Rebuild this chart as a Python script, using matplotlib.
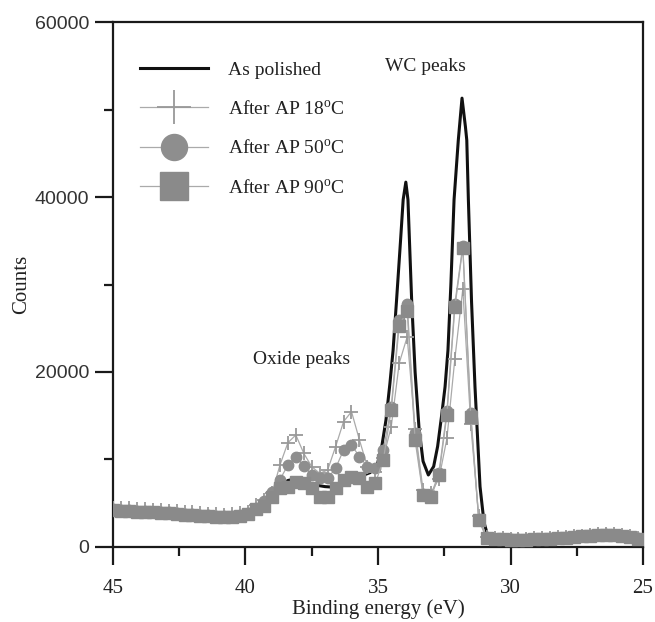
import matplotlib
matplotlib.use("Agg")
import matplotlib.pyplot as plt
from matplotlib.ticker import MultipleLocator

plt.rcParams['mathtext.fontset'] = 'custom'
plt.rcParams['mathtext.rm'] = 'Liberation Serif'
plt.rcParams['mathtext.it'] = 'Liberation Serif:italic'

SERIF = 'Liberation Serif'
SANS = 'Liberation Sans'

# As polished spectrum (continuous line)
polished_ev = [45.0, 44.0, 43.0, 42.0, 41.0, 40.3, 39.8, 39.5, 39.3, 39.1,
               38.9, 38.7, 38.4, 38.1, 37.9, 37.6, 37.3, 37.0, 36.8, 36.5,
               36.2, 35.9, 35.6, 35.3, 35.05, 34.86, 34.7, 34.55, 34.43, 34.3,
               34.15, 34.05, 33.95, 33.87, 33.73, 33.6, 33.45, 33.3, 33.1, 32.9,
               32.75, 32.6, 32.47, 32.36, 32.25, 32.13, 31.97, 31.83, 31.7, 31.65,
               31.59, 31.47, 31.34, 31.15, 31.0, 30.85, 30.6, 30.0, 29.0, 28.0,
               27.0, 26.5, 26.0, 25.5, 25.0]
polished_counts = [4500, 4300, 4100, 3900, 3650, 3700, 3900, 4400, 4900, 5400,
                   6200, 7000, 7600, 7800, 7650, 7300, 7050, 6900, 6860, 7000,
                   7500, 8000, 8150, 8500, 9140, 11430, 14500, 18700, 22500, 28200,
                   35000, 39700, 41700, 39700, 28200, 20000, 13500, 9800, 8230, 9200,
                   11500, 15000, 18300, 22500, 30000, 39700, 46500, 51300, 48000, 46500,
                   39700, 28000, 18300, 6900, 2800, 1200, 800, 700, 700, 800,
                   1000, 1100, 1000, 850, 700]

# energy grid of the AP spectra
ap_ev = [45.0, 44.7, 44.4, 44.1, 43.8, 43.5, 43.2, 42.9, 42.6, 42.3,
         42.0, 41.7, 41.4, 41.1, 40.8, 40.5, 40.2, 39.9, 39.6, 39.3,
         39.0, 38.7, 38.4, 38.1, 37.8, 37.5, 37.2, 36.9, 36.6, 36.3,
         36.0, 35.7, 35.4, 35.1, 34.8, 34.5, 34.2, 33.9, 33.6, 33.3,
         33.0, 32.7, 32.4, 32.1, 31.8, 31.5, 31.2, 30.9, 30.6, 30.3,
         30.0, 29.7, 29.4, 29.1, 28.8, 28.5, 28.2, 27.9, 27.6, 27.3,
         27.0, 26.7, 26.4, 26.1, 25.8, 25.5, 25.2]

ap18_counts = [4500, 4450, 4400, 4350, 4300, 4250, 4200, 4150, 4100, 4000,
               3950, 3850, 3800, 3750, 3700, 3750, 3850, 4050, 4800, 5400,
               6130, 9370, 11920, 12800, 10700, 9180, 8420, 8800, 11470, 14320,
               15470, 12230, 9180, 8610, 10200, 13750, 21000, 24000, 13500, 6500,
               6200, 7800, 12400, 21500, 29500, 14000, 3500, 1100, 1000, 1000,
               950, 950, 950, 1000, 1000, 1050, 1100, 1150, 1200, 1300,
               1400, 1450, 1500, 1450, 1350, 1200, 1050]

ap50_counts = [4300, 4250, 4200, 4150, 4100, 4050, 4000, 3950, 3900, 3800,
               3750, 3650, 3600, 3550, 3500, 3550, 3650, 3850, 4500, 5200,
               6300, 7700, 9370, 10320, 9260, 8230, 7850, 7850, 8990, 11090,
               11660, 10320, 9180, 8990, 11090, 16000, 26000, 27800, 13000, 6000,
               5900, 8500, 15500, 27800, 34400, 15300, 3200, 1000, 950, 950,
               900, 900, 900, 950, 950, 1000, 1050, 1100, 1150, 1250,
               1350, 1400, 1450, 1400, 1300, 1150, 1000]

ap90_counts = [4200, 4150, 4100, 4050, 4000, 3950, 3900, 3850, 3800, 3700,
               3650, 3550, 3500, 3450, 3400, 3450, 3550, 3750, 4300, 4700,
               5750, 6700, 6900, 7470, 7280, 6700, 5750, 5750, 6700, 7660,
               8040, 7850, 6900, 7280, 9940, 15660, 25300, 27000, 12200, 5950,
               5700, 8200, 15100, 27400, 34200, 14900, 3100, 1000, 900, 900,
               850, 850, 850, 900, 900, 950, 1000, 1050, 1100, 1200,
               1300, 1350, 1400, 1350, 1250, 1100, 950]

labels = ['As polished',
          'After AP 18$^{\\mathrm{o}}$C',
          'After AP 50$^{\\mathrm{o}}$C',
          'After AP 90$^{\\mathrm{o}}$C']

fig = plt.figure(figsize=(6.55, 6.22), dpi=100)
ax = fig.add_axes([0.1725, 0.1206, 0.8092, 0.844])

ax.plot(polished_ev, polished_counts, color='#111111', lw=2.2, label=labels[0], zorder=2)
ax.plot(ap_ev, ap18_counts, color='#aaaaaa', lw=0.9, marker='+', ms=10, mew=1.3,
        mec='#999999', label=labels[1], zorder=3)
ax.plot(ap_ev, ap50_counts, color='#aaaaaa', lw=0.9, marker='o', ms=7.5,
        mfc='#8e8e8e', mec='#8e8e8e', label=labels[2], zorder=4)
ax.plot(ap_ev, ap90_counts, color='#aaaaaa', lw=0.9, marker='s', ms=8,
        mfc='#8a8a8a', mec='#8a8a8a', label=labels[3], zorder=5)

ax.set_xlim(45, 25)
ax.set_ylim(0, 60000)
ax.xaxis.set_major_locator(MultipleLocator(5))
ax.xaxis.set_minor_locator(MultipleLocator(2.5))
ax.yaxis.set_major_locator(MultipleLocator(20000))
ax.yaxis.set_minor_locator(MultipleLocator(10000))

for s in ax.spines.values():
    s.set_linewidth(1.6)
    s.set_color('#1a1a1a')
ax.tick_params(which='both', direction='out', top=False, right=False,
               width=1.6, color='#1a1a1a')
ax.tick_params(which='major', length=13)
ax.tick_params(which='minor', length=6.5)
ax.tick_params(axis='x', pad=10)
ax.tick_params(axis='y', pad=4)

for t in ax.get_xticklabels():
    t.set_fontfamily(SERIF)
    t.set_fontsize(15)
    t.set_color('#222222')
for t in ax.get_yticklabels():
    t.set_fontfamily(SANS)
    t.set_fontsize(14)
    t.set_color('#333333')

ax.set_xlabel('Binding energy (eV)', fontfamily=SERIF, fontsize=15,
              color='#222222', labelpad=1)
ax.set_ylabel('Counts', fontfamily=SERIF, fontsize=15, color='#222222', labelpad=3)

ax.text(34.75, 54900, 'WC peaks', fontfamily=SERIF, fontsize=14,
        color='#222222', ha='left', va='center')
ax.text(39.7, 21400, 'Oxide peaks', fontfamily=SERIF, fontsize=14,
        color='#222222', ha='left', va='center')

leg = ax.legend(loc='upper left', bbox_to_anchor=(140 / 655, 1 - 61 / 622),
                bbox_transform=fig.transFigure, frameon=False, borderpad=0,
                borderaxespad=0, handlelength=3.5, handletextpad=1.0,
                labelspacing=1.1, markerscale=2.5,
                prop={'family': SERIF, 'size': 14})
for t in leg.get_texts():
    t.set_color('#222222')

fig.savefig('out.png', dpi=100)
